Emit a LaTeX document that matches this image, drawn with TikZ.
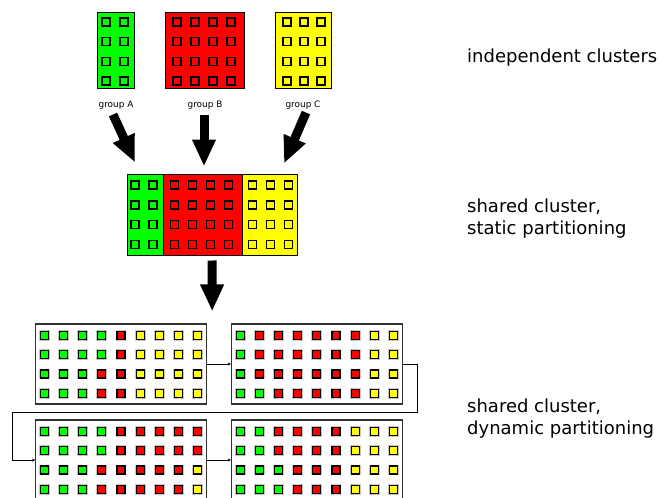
\documentclass[tikz,border=0pt]{standalone}
\usepackage{fontspec}
\setmainfont{DejaVu Sans}
\usetikzlibrary{calc}
\usetikzlibrary{arrows.meta}

\definecolor{grpA}{RGB}{0,255,0}
\definecolor{grpB}{RGB}{255,0,0}
\definecolor{grpC}{RGB}{255,255,0}

\tikzset{
  clus/.style={draw=black,line width=1pt,inner sep=0pt},
  tcell/.style={draw=black,line width=1.5pt},
  cell/.style={draw=black,line width=1.2pt,preaction={draw=gray!45,line width=2.8pt}},
  pool/.style={draw=black!80,line width=1.2pt,minimum width=171pt,minimum height=80pt,inner sep=0pt},
  bigarrow/.style={line width=9pt,-{Triangle[length=27pt,width=22pt]}},
  link/.style={line width=0.8pt,-{Stealth[length=3pt,width=3pt]}},
  grplab/.style={font=\fontsize{8.9}{10}\selectfont,inner sep=0pt},
  caption/.style={font=\fontsize{18}{22}\selectfont,align=left,anchor=base west,inner sep=0pt}
}

\begin{document}
\begin{tikzpicture}[x=1pt,y=-1pt]
\useasboundingbox (0,0) rectangle (659,498);

% independent clusters
\node[clus,fill=grpA,minimum width=37pt,minimum height=76pt] (cA) at (115.5,50) {};
\node[clus,fill=grpB,minimum width=79pt,minimum height=76pt] (cB) at (204.5,50) {};
\node[clus,fill=grpC,minimum width=56pt,minimum height=76pt] (cC) at (303,50) {};
\foreach \j in {0,...,3}{
  \foreach \x in {106,124}
    \draw[tcell] (\x,22+19.67*\j) +(-4,-4) rectangle +(4,4);
  \foreach \i in {0,...,3}
    \draw[tcell] (177+18*\i,22+19.67*\j) +(-4,-4) rectangle +(4,4);
  \foreach \i in {0,...,2}
    \draw[tcell] (287+17*\i,22+19.67*\j) +(-4,-4) rectangle +(4,4);
}
\node[grplab,anchor=base] (gA) at (116,107.5) {group A};
\node[grplab,anchor=base] (gB) at (205,107.5) {group B};
\node[grplab,anchor=base] (gC) at (303,107.5) {group C};

% shared cluster, static
\node[clus,fill=grpA,minimum width=36pt,minimum height=81pt] (sA) at (145,214.5) {};
\node[clus,fill=grpB,minimum width=79pt,minimum height=81pt] (sB) at (202.5,214.5) {};
\node[clus,fill=grpC,minimum width=55pt,minimum height=81pt] (sC) at (269.5,214.5) {};
\foreach \j in {0,...,3}{
  \foreach \x in {135,153}
    \draw[tcell] (\x,185+19.8*\j) +(-4,-4) rectangle +(4,4);
  \foreach \i in {0,...,3}
    \draw[tcell] (174.5+18*\i,185+19.8*\j) +(-4,-4) rectangle +(4,4);
  \foreach \i in {0,...,2}
    \draw[tcell] (252.7+17.8*\i,185+19.8*\j) +(-4,-4) rectangle +(4,4);
}

\draw[bigarrow] ([shift={(-3,5)}]gA.south) -- ([shift={(-10,-11)}]sA.north);
\draw[bigarrow] ([shift={(-1,5)}]gB.south) -- ([shift={(1.5,-7)}]sB.north);
\draw[bigarrow] ([shift={(3,3)}]gC.south) -- ([shift={(14.5,-10)}]sC.north);

% shared cluster, dynamic
\node[pool] (p1) at (121.2,364) {};
\node[pool] (p2) at (317,364) {};
\node[pool] (p3) at (121.2,460) {};
\node[pool] (p4) at (317,460) {};

\foreach \row [count=\j from 0] in {{A,A,A,A,B,C,C,C,C},{A,A,A,A,B,C,C,C,C},{A,A,A,B,B,C,C,C,C},{A,A,A,B,B,C,C,C,C}}
  \foreach \c [count=\i from 0] in \row
    \draw[cell,fill=grp\c] ($(p1.north west)+(9.3+19.15*\i,11.7+19.4*\j)$) +(-4,-4) rectangle +(4,4);
\foreach \row [count=\j from 0] in {{A,B,B,B,B,B,B,C,C},{A,B,B,B,B,B,B,C,C},{A,B,B,B,B,B,B,C,C},{A,A,B,B,B,B,B,C,C}}
  \foreach \c [count=\i from 0] in \row
    \draw[cell,fill=grp\c] ($(p2.north west)+(9.3+19.15*\i,11.7+19.4*\j)$) +(-4,-4) rectangle +(4,4);
\foreach \row [count=\j from 0] in {{A,A,A,A,B,B,B,B,B},{A,A,A,A,B,B,B,B,B},{A,A,A,B,B,B,B,B,C},{A,A,A,B,B,B,B,B,C}}
  \foreach \c [count=\i from 0] in \row
    \draw[cell,fill=grp\c] ($(p3.north west)+(9.3+19.15*\i,11.7+19.4*\j)$) +(-4,-4) rectangle +(4,4);
\foreach \row [count=\j from 0] in {{A,A,B,B,B,B,C,C,C},{A,A,B,B,B,B,C,C,C},{A,A,A,B,B,B,C,C,C},{A,A,A,B,B,B,C,C,C}}
  \foreach \c [count=\i from 0] in \row
    \draw[cell,fill=grp\c] ($(p4.north west)+(9.3+19.15*\i,11.7+19.4*\j)$) +(-4,-4) rectangle +(4,4);

\draw[bigarrow] ([shift={(9.5,5)}]sB.south) -- ([shift={(91,-12)}]p1.north);

\coordinate (turnR) at (417,412);
\coordinate (turnL) at (12,412);
\draw[link] (p1.east) -- (p2.west);
\draw[link] (p2.east) -| (turnR) -- (turnL) |- (p3.west);
\draw[link] (p3.east) -- (p4.west);

% captions
\node[caption] (t1) at (467,62) {independent clusters};
\node[caption] (t2) at (467,234) {shared cluster,\\static partitioning};
\node[caption] (t3) at (467,434) {shared cluster,\\dynamic partitioning};

\end{tikzpicture}
\end{document}
